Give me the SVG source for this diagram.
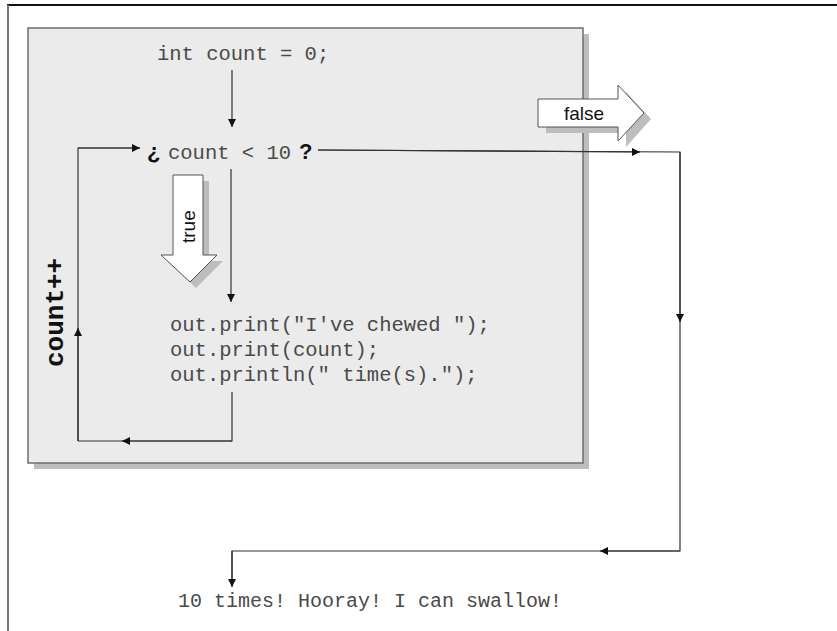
<svg xmlns="http://www.w3.org/2000/svg" width="837" height="631" viewBox="0 0 837 631">
<defs>
<style>
.code{font-family:"Liberation Mono","Courier New",monospace;font-size:20.5px;fill:#4a4a4a}
.bold{font-family:"Liberation Sans",Arial,sans-serif;font-weight:bold;font-size:22px;fill:#111}
.lbl{font-family:"Liberation Sans",Arial,sans-serif;font-size:19px;fill:#111}
.ln{fill:none;stroke:#333;stroke-width:1.2}
.big{fill:#fff;stroke:#555;stroke-width:1}
.shd{fill:#bdbdbd}
</style>
<marker id="ah" viewBox="0 0 10 10" refX="10" refY="5" markerWidth="8" markerHeight="8" markerUnits="userSpaceOnUse" orient="auto">
<path d="M0,0 L10,5 L0,10 z" fill="#111"/>
</marker>
</defs>
<rect x="0" y="0" width="837" height="631" fill="#fff"/>
<g id="frame">
<line x1="7" y1="5" x2="837" y2="5" stroke="#111" stroke-width="2"/>
<line x1="8" y1="5" x2="8" y2="631" stroke="#777" stroke-width="2"/>
</g>
<g id="panel">
<rect x="34" y="34" width="555" height="435" class="shd"/>
<rect x="28" y="28" width="555" height="435" fill="#ebebeb" stroke="#6e6e6e" stroke-width="1.5"/>
</g>
<g id="true-arrow">
<path d="M179,181 H209 V261 H223 L196,288 L167,261 H179 Z" class="shd"/>
<path d="M173,175 H203 V255 H217 L190,282 L161,255 H173 Z" class="big"/>
<text class="lbl" transform="translate(195,243) rotate(-90)">true</text>
</g>
<g id="false-arrow">
<path d="M546,106 H626 V92 L651,119 L626,147 V133 H546 Z" class="shd"/>
<path d="M538,99 H618 V85 L644,113 L618,141 V127 H538 Z" class="big"/>
<text class="lbl" x="584" y="120" text-anchor="middle">false</text>
</g>
<g id="connectors">
<line class="ln" x1="232" y1="70" x2="232" y2="127" marker-end="url(#ah)"/>
<line class="ln" x1="231" y1="169" x2="231" y2="302" marker-end="url(#ah)"/>
<polyline class="ln" points="232,392 232,441 78,441"/>
<line class="ln" x1="232" y1="441" x2="122" y2="441" marker-end="url(#ah)"/>
<polyline class="ln" points="78,441 78,148 140,148"/>
<line class="ln" x1="78" y1="441" x2="78" y2="328" marker-end="url(#ah)"/>
<line class="ln" x1="78" y1="148" x2="140" y2="148" marker-end="url(#ah)"/>
<polyline class="ln" points="318,150 680,152 680,551 232,551 232,586"/>
<line class="ln" x1="318" y1="150" x2="640" y2="152" marker-end="url(#ah)"/>
<line class="ln" x1="680" y1="152" x2="680" y2="322" marker-end="url(#ah)"/>
<line class="ln" x1="680" y1="551" x2="600" y2="551" marker-end="url(#ah)"/>
<line class="ln" x1="232" y1="551" x2="232" y2="587" marker-end="url(#ah)"/>
</g>
<g id="init">
<text class="code" x="157" y="60">int count = 0;</text>
</g>
<g id="condition">
<text class="bold" x="147" y="159">¿</text>
<text class="code" x="168" y="159">count &lt; 10</text>
<text class="bold" x="299" y="159">?</text>
</g>
<g id="body">
<text class="code" x="170" y="331">out.print("I've chewed ");</text>
<text class="code" x="170" y="356">out.print(count);</text>
<text class="code" x="170" y="381">out.println(" time(s).");</text>
</g>
<g id="increment">
<text transform="translate(63,367) rotate(-90)" font-family="'Liberation Mono','Courier New',monospace" font-weight="bold" font-size="26" fill="#111">count++</text>
</g>
<g id="result">
<text class="code" x="178" y="607" style="font-size:20px">10 times! Hooray! I can swallow!</text>
</g>
</svg>
